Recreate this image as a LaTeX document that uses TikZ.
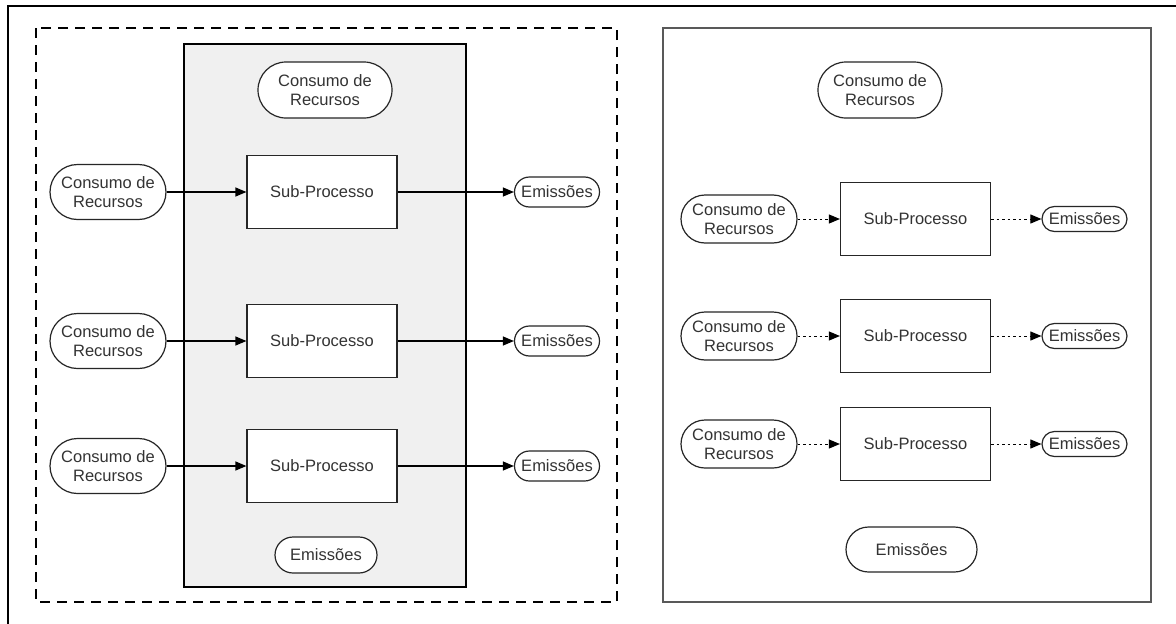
\documentclass[tikz,border=0pt]{standalone}
\usepackage{fontspec}
\setmainfont{Liberation Sans}
\usetikzlibrary{arrows.meta}
\begin{document}
\begin{tikzpicture}[x=1pt,y=-1pt,
  font=\fontsize{16.5}{19}\selectfont,
  pill/.style n args={3}{draw=black!85, fill=white, line width=1.2pt, rectangle, rounded corners=#3, minimum width=#1, minimum height=#2, inner sep=0pt, align=center, text=black!80},
  subbox/.style={draw=black!85, fill=white, line width=1.2pt, rectangle, minimum width=150pt, minimum height=73pt, inner sep=0pt, text=black!80},
  flow/.style={line width=1.2pt, -{Triangle[length=11pt,width=9pt]}},
  dflow/.style={line width=1pt, dash pattern=on 2.5pt off 3pt, -{Triangle[length=11pt,width=9pt]}}]

\useasboundingbox (0,0) rectangle (1176,624);
\fill[white] (0,0) rectangle (1176,624);

% frames
\draw[line width=2.2pt] (8,624) -- (8,6) -- (1176,6);
\draw[line width=1.5pt, dash pattern=on 10pt off 7pt] (36,28) rectangle (617,602);
\draw[line width=1.3pt, fill=black!6] (184,44) rectangle (466,587);
\draw[line width=1.8pt, draw=black!65] (663,28) rectangle (1151,602);

% left panel
\node[pill={134pt}{56pt}{28pt}] (lTop) at (325,90) {Consumo de\\Recursos};
\node[pill={102pt}{36pt}{18pt}] (lBot) at (326,555) {Emissões};

\node[pill={116pt}{55pt}{27.5pt}] (lC1) at (108,192) {Consumo de\\Recursos};
\node[pill={116pt}{55pt}{27.5pt}] (lC2) at (108,341) {Consumo de\\Recursos};
\node[pill={116pt}{55pt}{27.5pt}] (lC3) at (108,466) {Consumo de\\Recursos};

\node[subbox] (lS1) at (322,192) {Sub-Processo};
\node[subbox] (lS2) at (322,341) {Sub-Processo};
\node[subbox] (lS3) at (322,466) {Sub-Processo};

\node[pill={85pt}{30pt}{15pt}] (lE1) at (557,192) {Emissões};
\node[pill={85pt}{30pt}{15pt}] (lE2) at (557,341) {Emissões};
\node[pill={85pt}{30pt}{15pt}] (lE3) at (557,466) {Emissões};

\draw[flow] (lC1) -- (lS1);
\draw[flow] (lC2) -- (lS2);
\draw[flow] (lC3) -- (lS3);
\draw[flow] (lS1) -- (lE1);
\draw[flow] (lS2) -- (lE2);
\draw[flow] (lS3) -- (lE3);

% right panel
\node[pill={124pt}{56pt}{28pt}] (rTop) at (880,90) {Consumo de\\Recursos};
\node[pill={131pt}{45pt}{22.5pt}] (rBot) at (911.5,549.5) {Emissões};

\node[pill={116pt}{48pt}{24pt}] (rC1) at (739,219) {Consumo de\\Recursos};
\node[pill={116pt}{48pt}{24pt}] (rC2) at (739,336) {Consumo de\\Recursos};
\node[pill={116pt}{48pt}{24pt}] (rC3) at (739,444) {Consumo de\\Recursos};

\node[subbox] (rS1) at (915.5,219) {Sub-Processo};
\node[subbox] (rS2) at (915.5,336) {Sub-Processo};
\node[subbox] (rS3) at (915.5,444) {Sub-Processo};

\node[pill={85pt}{25pt}{12.5pt}] (rE1) at (1084.5,219) {Emissões};
\node[pill={85pt}{25pt}{12.5pt}] (rE2) at (1084.5,336) {Emissões};
\node[pill={85pt}{25pt}{12.5pt}] (rE3) at (1084.5,444) {Emissões};

\draw[dflow] (rC1) -- (rS1);
\draw[dflow] (rC2) -- (rS2);
\draw[dflow] (rC3) -- (rS3);
\draw[dflow] (rS1) -- (rE1);
\draw[dflow] (rS2) -- (rE2);
\draw[dflow] (rS3) -- (rE3);
\end{tikzpicture}
\end{document}
